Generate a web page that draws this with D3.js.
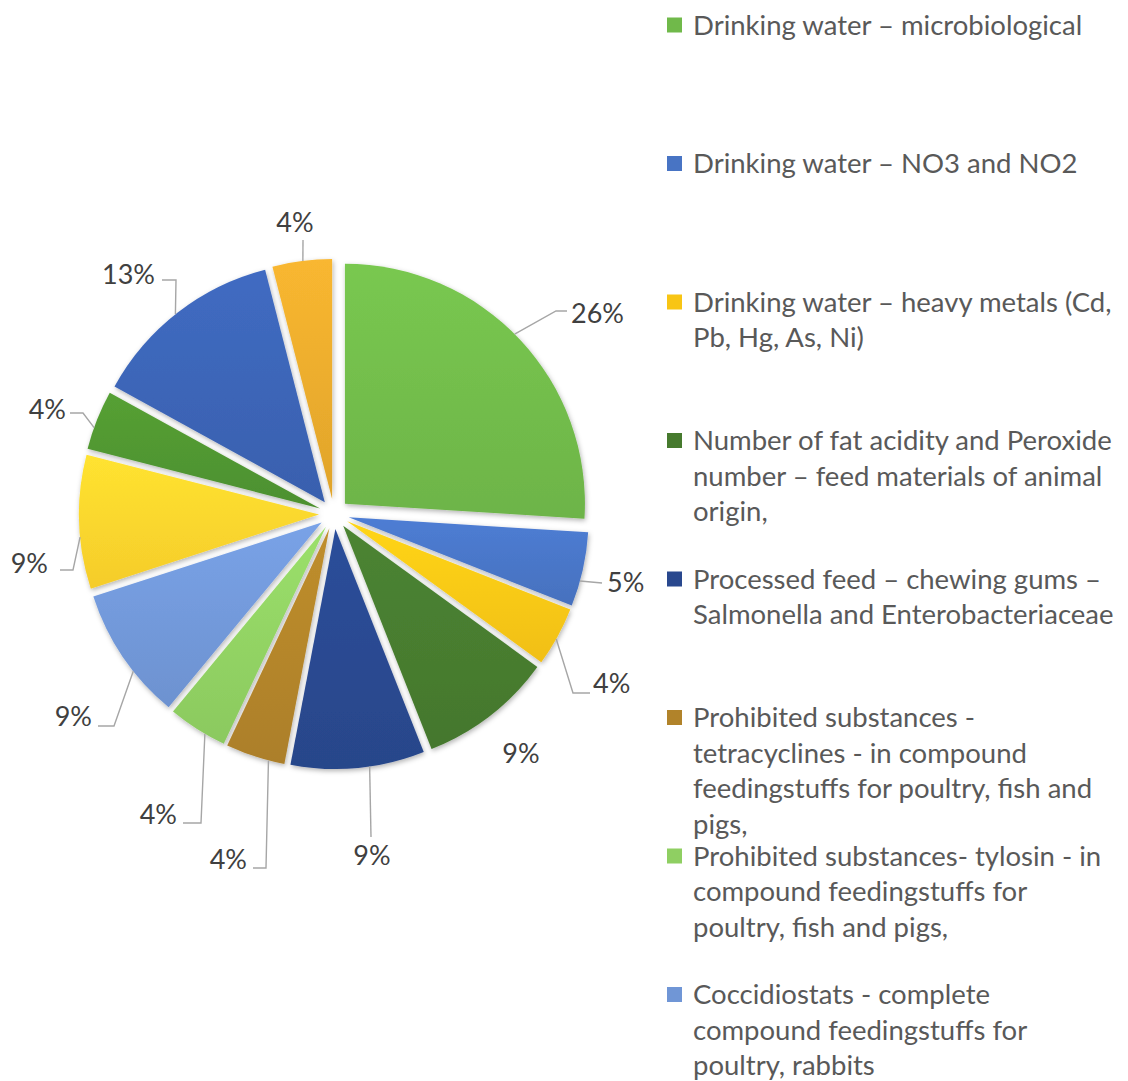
<!DOCTYPE html>
<html>
<head>
<meta charset="utf-8">
<script src="https://cdn.jsdelivr.net/npm/d3@7"></script>
<style>
  html, body { margin: 0; padding: 0; background: #fff; }
  svg { display: block; font-family: Lato, "Open Sans", sans-serif; }
</style>
</head>
<body>
<svg id="chart" width="1128" height="1081"></svg>
<script>
// Share of results per control area (%), clockwise from 12 o'clock
const shares = [26, 5, 4, 9, 9, 4, 4, 9, 9, 4, 13, 4];
const shareLabels = ["26%", "5%", "4%", "9%", "9%", "4%", "4%", "9%", "9%", "4%", "13%", "4%"];
const sliceColors = ["#70b94a", "#4874c4", "#f8c514", "#467a2e", "#29488e", "#b1832a",
                     "#8fcf62", "#7096d6", "#fcd22c", "#4f9430", "#3b63b3", "#e6a92c"];

// Legend entries (first eight categories), already broken into lines
const legendItems = [
  ["Drinking water – microbiological"],
  ["Drinking water – NO3 and NO2"],
  ["Drinking water – heavy metals (Cd,", "Pb, Hg, As, Ni)"],
  ["Number of fat acidity and Peroxide", "number – feed materials of animal", "origin,"],
  ["Processed feed – chewing gums –", "Salmonella and Enterobacteriaceae"],
  ["Prohibited substances -", "tetracyclines - in compound", "feedingstuffs for poultry, fish and", "pigs,"],
  ["Prohibited substances- tylosin - in", "compound feedingstuffs for", "poultry, fish and pigs,"],
  ["Coccidiostats - complete", "compound feedingstuffs for", "poultry, rabbits"]
];

// Data-label placement relative to the pie centre:
// a = angle (deg) where the leader meets the slice edge, pts = leader bends,
// tx/ty = text anchor (ty is the vertical middle of the digits)
const labelLayout = [
  { a: 45,    pts: [[222, -203], [233, -203]], tx: 237, ty: -201, anchor: "start" },
  { a: 105.4, pts: [[268, 69]],                tx: 273, ty: 68,   anchor: "start" },
  { a: 119.4, pts: [[239, 179], [256, 179]],   tx: 259, ty: 169,  anchor: "start" },
  { a: null,  pts: [],                         tx: 187, ty: 239,  anchor: "middle" },
  { a: 171.8, pts: [[37, 323]],                tx: 38,  ty: 341,  anchor: "middle" },
  { a: 194.7, pts: [[-68, 354], [-81, 354]],   tx: -87, ty: 345,  anchor: "end" },
  { a: 210.3, pts: [[-133, 309], [-151, 309]], tx: -157, ty: 300, anchor: "end" },
  { a: 231.7, pts: [[-220, 212], [-236, 212]], tx: -242, ty: 202, anchor: "end" },
  { a: 264.6, pts: [[-261, 56], [-274, 56]],   tx: -286, ty: 49,  anchor: "end" },
  { a: 289.7, pts: [[-251, -101], [-264, -101]], tx: -268, ty: -105, anchor: "end" },
  { a: 321.5, pts: [[-158, -234], [-172, -234]], tx: -179, ty: -240, anchor: "end" },
  { a: 353,   pts: [[-31, -274]],              tx: -39, ty: -292, anchor: "middle" }
];

const cx = 334, cy = 514, radius = 240, explode = 15;
const labelSize = 27, legendSize = 27.5;

const svg = d3.select("#chart");
const defs = svg.append("defs");

// soft outer shadow on the slices
const shadow = defs.append("filter").attr("id", "sliceShadow")
  .attr("x", "-20%").attr("y", "-20%").attr("width", "140%").attr("height", "140%");
shadow.append("feDropShadow").attr("dx", 1).attr("dy", 2)
  .attr("stdDeviation", 2.5).attr("flood-color", "#000").attr("flood-opacity", 0.3);

// light-to-base vertical gradient per slice
sliceColors.forEach((c, i) => {
  const g = defs.append("linearGradient").attr("id", "grad" + i)
    .attr("x1", 0).attr("y1", 0).attr("x2", 0).attr("y2", 1);
  g.append("stop").attr("offset", "0%").attr("stop-color", d3.color(c).brighter(0.22).formatHex());
  g.append("stop").attr("offset", "100%").attr("stop-color", d3.color(c).darker(0.08).formatHex());
});

const pie = d3.pie().sort(null).value(d => d);
const arcs = pie(shares);
const arc = d3.arc().innerRadius(0).outerRadius(radius);

const mid = d => (d.startAngle + d.endAngle) / 2;
const shift = d => [Math.sin(mid(d)) * explode, -Math.cos(mid(d)) * explode];

const pieG = svg.append("g").attr("transform", `translate(${cx},${cy})`);

pieG.append("g").attr("filter", "url(#sliceShadow)")
  .selectAll("path").data(arcs).join("path")
  .attr("transform", d => `translate(${shift(d)[0]},${shift(d)[1]})`)
  .attr("d", arc)
  .attr("fill", (d, i) => `url(#grad${i})`);

// leader lines
const line = d3.line();
pieG.append("g").selectAll("path")
  .data(arcs.filter((d, i) => labelLayout[i].a !== null))
  .join("path")
  .attr("d", d => {
    const L = labelLayout[d.index];
    const s = shift(d);
    const t = L.a * Math.PI / 180;
    const start = [s[0] + Math.sin(t) * radius, s[1] - Math.cos(t) * radius];
    return line([start, ...L.pts]);
  })
  .attr("fill", "none").attr("stroke", "#a6a6a6").attr("stroke-width", 1.4);

// data labels
pieG.append("g").selectAll("text").data(arcs).join("text")
  .attr("x", d => labelLayout[d.index].tx)
  .attr("y", d => labelLayout[d.index].ty + labelSize * 0.36)
  .attr("text-anchor", d => labelLayout[d.index].anchor)
  .attr("font-size", labelSize)
  .attr("fill", "#404040")
  .text(d => shareLabels[d.index]);

// legend
const legX = 667, legTextX = 693, legTop = 25, legStep = 138.5, lineStep = 35.5, box = 15;
const leg = svg.append("g").selectAll("g").data(legendItems).join("g")
  .attr("transform", (d, i) => `translate(0,${legTop + i * legStep})`);
leg.append("rect")
  .attr("x", legX).attr("y", -box / 2).attr("width", box).attr("height", box)
  .attr("fill", (d, i) => sliceColors[i]);
leg.append("text")
  .attr("font-size", legendSize).attr("fill", "#595959")
  .selectAll("tspan").data(d => d).join("tspan")
  .attr("x", legTextX)
  .attr("y", (d, j) => j * lineStep + legendSize * 0.36)
  .text(d => d);
</script>
</body>
</html>
